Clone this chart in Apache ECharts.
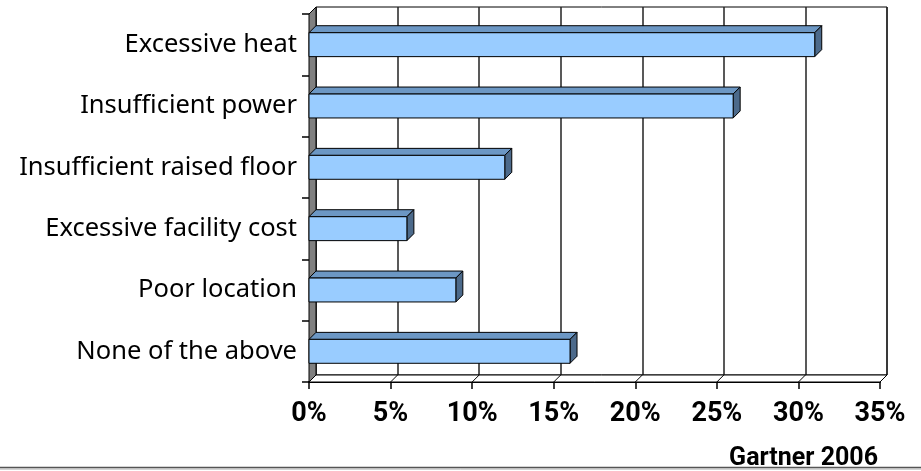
<!DOCTYPE html>
<html>
<head>
<meta charset="utf-8">
<script src="https://cdn.jsdelivr.net/npm/echarts@6/dist/echarts.min.js"></script>
<style>html,body{margin:0;padding:0;background:#fff;}#c{width:921px;height:471px;}</style>
</head>
<body>
<div id="c"></div>
<script>
const categories = ['Excessive heat', 'Insufficient power', 'Insufficient raised floor', 'Excessive facility cost', 'Poor location', 'None of the above'];
const values = [31, 26, 12, 6, 9, 16];
const xTicks = [0, 5, 10, 15, 20, 25, 30, 35];
const sourceNote = 'Gartner 2006';

const DX = 7, DY = 7;
const chart = echarts.init(document.getElementById('c'));

function wallFloor(params, api) {
  const cs = params.coordSys;
  const L = cs.x, T = cs.y, B = cs.y + cs.height, R = cs.x + cs.width;
  const children = [];
  children.push({type: 'polygon', shape: {points: [[L, T], [L + DX, T - DY], [L + DX, B - DY], [L, B]]},
    style: {fill: '#808080', stroke: '#000', lineWidth: 1}});
  children.push({type: 'polygon', shape: {points: [[L, B], [L + DX, B - DY], [R + DX, B - DY], [R, B]]},
    style: {fill: '#fff', stroke: '#000', lineWidth: 1}});
  xTicks.forEach(function (t) {
    const x = api.coord([t, 0])[0];
    children.push({type: 'line', shape: {x1: x, y1: B, x2: x + DX, y2: B - DY}, style: {stroke: '#000', lineWidth: 1}});
  });
  return {type: 'group', children: children};
}

function bar3d(params, api) {
  const idx = api.value(1);
  const val = api.value(0);
  const c0 = api.coord([0, idx]);
  const c1 = api.coord([val, idx]);
  const band = api.size([0, 1])[1];
  const h = band * 0.39;
  const x0 = c0[0], x1 = c1[0];
  const yt = c0[1] - h / 2, yb = c0[1] + h / 2;
  return {type: 'group', children: [
    {type: 'polygon', shape: {points: [[x0, yt], [x0 + DX, yt - DY], [x1 + DX, yt - DY], [x1, yt]]},
      style: {fill: '#6C97C4', stroke: '#000', lineWidth: 1}},
    {type: 'polygon', shape: {points: [[x1, yt], [x1 + DX, yt - DY], [x1 + DX, yb - DY], [x1, yb]]},
      style: {fill: '#4C6A8B', stroke: '#000', lineWidth: 1}},
    {type: 'rect', shape: {x: x0, y: yt, width: x1 - x0, height: h},
      style: {fill: '#99CCFF', stroke: '#000', lineWidth: 1}}
  ]};
}

const option = {
  backgroundColor: '#fff',
  animation: false,
  title: {text: sourceNote, right: 38, top: 441,
    textStyle: {fontFamily: 'Roboto, Liberation Sans, sans-serif', fontWeight: 'bold', fontSize: 25, color: '#000'}},
  grid: [
    {left: 309, right: 41, top: 14, bottom: 89},
    {left: 309 + DX, right: 41 - DX, top: 14 - DY, bottom: 89 + DY, show: true, borderColor: '#000', borderWidth: 1, backgroundColor: '#fff'}
  ],
  xAxis: [
    {type: 'value', gridIndex: 0, min: 0, max: 35, interval: 5,
      axisLine: {show: true, lineStyle: {color: '#000', width: 2}},
      axisTick: {show: true, length: 7, lineStyle: {color: '#000', width: 1.5}},
      splitLine: {show: false},
      axisLabel: {formatter: '{value}%', margin: 19, color: '#000', fontFamily: 'Roboto, Liberation Sans, sans-serif', fontWeight: 'bold', fontSize: 27}},
    {type: 'value', gridIndex: 1, min: 0, max: 35, interval: 5,
      axisLine: {show: false}, axisTick: {show: false}, axisLabel: {show: false},
      splitLine: {show: true, lineStyle: {color: '#222', width: 1.5}}}
  ],
  yAxis: [
    {type: 'category', gridIndex: 0, data: categories, inverse: true,
      axisLine: {show: false},
      axisTick: {show: true, length: 7, lineStyle: {color: '#000', width: 1.5}},
      axisLabel: {margin: 12, color: '#000', fontFamily: 'Noto Sans, Tahoma, sans-serif', fontSize: 25.5}},
    {type: 'category', gridIndex: 1, data: categories, inverse: true, show: false}
  ],
  series: [
    {type: 'custom', xAxisIndex: 0, yAxisIndex: 0, renderItem: wallFloor, data: [[0, 0]], z: 3, silent: true},
    {type: 'custom', xAxisIndex: 0, yAxisIndex: 0, renderItem: bar3d, z: 4,
      data: values.map(function (v, i) { return [v, i]; })}
  ],
  graphic: [
    {type: 'line', shape: {x1: 0, y1: 467.5, x2: 921, y2: 467.5}, style: {stroke: '#555', lineWidth: 1.5}, z: 10},
    {type: 'line', shape: {x1: 0, y1: 469, x2: 921, y2: 469}, style: {stroke: '#aaa', lineWidth: 1}, z: 10}
  ]
};
chart.setOption(option);
</script>
</body>
</html>
